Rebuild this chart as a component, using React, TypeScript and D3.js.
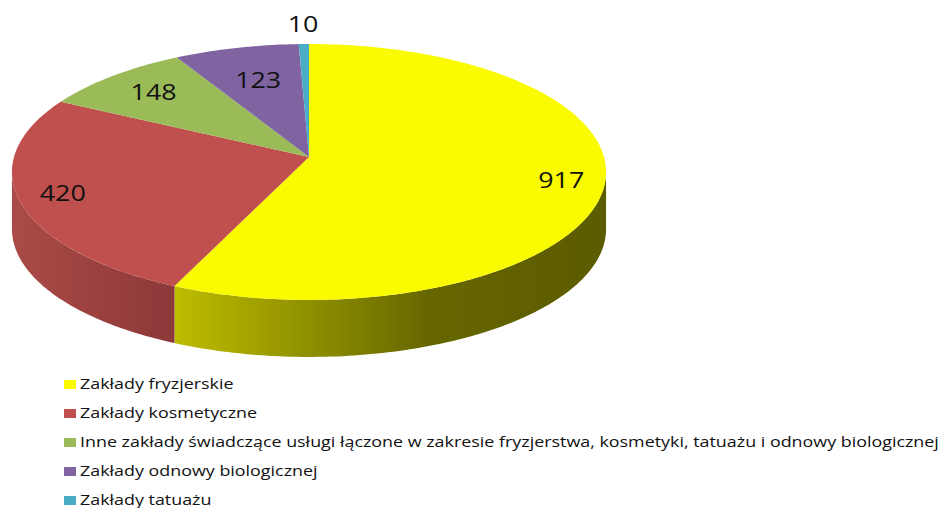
import React, { useEffect, useRef } from 'react';
import * as d3 from 'd3';

const categories = [
  'Zakłady fryzjerskie',
  'Zakłady kosmetyczne',
  'Inne zakłady świadczące usługi łączone w zakresie fryzjerstwa, kosmetyki, tatuażu i odnowy biologicznej',
  'Zakłady odnowy biologicznej',
  'Zakłady tatuażu',
];
const values = [917, 420, 148, 123, 10];
const colors = ['#FAFA00', '#C0504D', '#9BBB59', '#8064A2', '#4BACC6'];
const sideGradients = [
  [['0%', '#bdbd00'], ['59%', '#666600'], ['100%', '#5b5b00']],
  [['0%', '#ab4a47'], ['100%', '#8c3939']],
];

const W = 944;
const H = 508;
const CX = 309;
const CY = 157;
const A = 295;
const B = 126.2;
const K = 0.1172;
const DEPTH = 57;
const FONT = "'Open Sans', 'DejaVu Sans', sans-serif";

function project(theta: number, r = 1): [number, number] {
  const s = Math.sin(theta);
  const c = Math.cos(theta);
  const den = 1 + K * r * c;
  return [CX + (A * r * s) / den, CY - (B * r * c) / den];
}

function rim(a0: number, a1: number, dy = 0): [number, number][] {
  const n = Math.max(2, Math.ceil(((a1 - a0) * 180) / Math.PI));
  return d3.range(n + 1).map((i) => {
    const p = project(a0 + ((a1 - a0) * i) / n);
    return [p[0], p[1] + dy] as [number, number];
  });
}

export default function App() {
  const ref = useRef<SVGSVGElement>(null);

  useEffect(() => {
    const svg = d3.select(ref.current);
    svg.selectAll('*').remove();

    const pie = d3.pie<number>().sort(null).value((d) => d);
    const arcs = pie(values);
    const line = d3.line().curve(d3.curveLinear);
    const defs = svg.append('defs');

    // measure text for horizontal stretch
    const meas = svg.append('text').attr('font-family', FONT).attr('font-size', 14).text(categories[2]);
    const natural = (meas.node() as SVGTextElement).getComputedTextLength();
    meas.remove();
    const sx = 860 / natural;

    const thR = Math.acos(-K);
    const thL = 2 * Math.PI - thR;

    // side walls
    arcs.forEach((a, i) => {
      const s = Math.max(a.startAngle, thR);
      const e = Math.min(a.endAngle, thL);
      if (e <= s) return;
      const top = rim(s, e);
      const bot = rim(s, e, DEPTH).reverse();
      const xs = top.map((p) => p[0]);
      const gid = 'side' + i;
      const stops = sideGradients[i] || [['0%', colors[i]], ['100%', colors[i]]];
      const g = defs
        .append('linearGradient')
        .attr('id', gid)
        .attr('gradientUnits', 'userSpaceOnUse')
        .attr('x1', d3.max(xs)!)
        .attr('x2', d3.min(xs)!)
        .attr('y1', 0)
        .attr('y2', 0);
      // gradient runs from light (left) to dark (right)
      g.attr('x1', d3.min(xs)!).attr('x2', d3.max(xs)!);
      stops.forEach(([o, c]) => g.append('stop').attr('offset', o).attr('stop-color', c));
      svg
        .append('path')
        .attr('d', line([...top, ...bot])! + 'Z')
        .attr('fill', `url(#${gid})`);
    });

    // top faces
    arcs.forEach((a, i) => {
      const pts = [[CX, CY] as [number, number], ...rim(a.startAngle, a.endAngle)];
      svg
        .append('path')
        .attr('d', line(pts)! + 'Z')
        .attr('fill', colors[i]);
    });

    // data labels
    const total = d3.sum(values);
    arcs.forEach((a, i) => {
      const mid = (a.startAngle + a.endAngle) / 2;
      const P = project(mid);
      let ux = CX - P[0];
      let uy = CY - P[1];
      const len = Math.hypot(ux, uy);
      ux /= len;
      uy /= len;
      const t = svg
        .append('text')
        .attr('font-family', FONT)
        .attr('font-size', 21)
        .attr('fill', '#111')
        .attr('text-anchor', 'middle')
        .attr('dy', '0.36em')
        .text(String(values[i]));
      const w = (t.node() as SVGTextElement).getComputedTextLength() * sx;
      const hw = w / 2;
      const hh = 8;
      const ext = hw * Math.abs(ux) + hh * Math.abs(uy);
      let x: number, y: number;
      if (values[i] / total < 0.02) {
        x = P[0] - ux * (11 + ext);
        y = P[1] - uy * (11 + ext);
      } else {
        x = P[0] + ux * (20 + ext);
        y = P[1] + uy * (20 + ext);
      }
      t.attr('transform', `translate(${x},${y}) scale(${sx},1)`);
    });

    // legend
    const ly = d3.scaleLinear().domain([0, 1]).range([389, 418]);
    categories.forEach((c, i) => {
      const y = ly(i);
      svg
        .append('rect')
        .attr('x', 64)
        .attr('y', y - 9)
        .attr('width', 12)
        .attr('height', 9)
        .attr('fill', colors[i]);
      svg
        .append('text')
        .attr('transform', `translate(80,${y}) scale(${sx},1)`)
        .attr('font-family', FONT)
        .attr('font-size', 14)
        .attr('fill', '#111')
        .text(c);
    });
  }, []);

  return (
    <svg
      ref={ref}
      width={W}
      height={H}
      style={{ position: 'absolute', left: 0, top: 0, background: '#fff' }}
    />
  );
}
